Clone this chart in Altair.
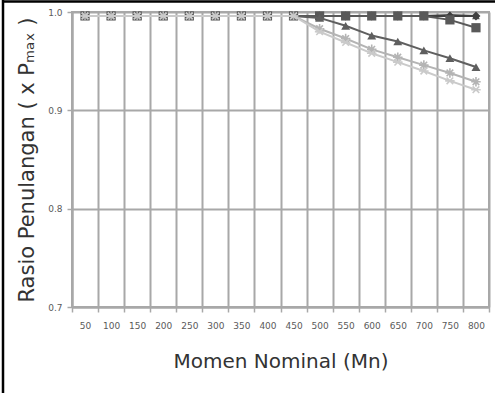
import altair as alt
import pandas as pd

# Nominal moment categories (Mn)
mn = [50, 100, 150, 200, 250, 300, 350, 400, 450, 500, 550, 600, 650, 700, 750, 800]

# Reinforcement ratio (x P_max) for each series
rasio_diamond = [0.996, 0.996, 0.996, 0.996, 0.996, 0.996, 0.996, 0.996,
                 0.996, 0.996, 0.996, 0.996, 0.996, 0.996, 0.996, 0.996]
rasio_tri_top = [0.996, 0.996, 0.996, 0.996, 0.996, 0.996, 0.996, 0.996,
                 0.996, 0.996, 0.996, 0.996, 0.996, 0.996, 0.997, 0.996]
rasio_square = [0.996, 0.996, 0.996, 0.996, 0.996, 0.996, 0.996, 0.996,
                0.996, 0.996, 0.996, 0.996, 0.996, 0.996, 0.992, 0.984]
rasio_triangle = [0.996, 0.996, 0.996, 0.996, 0.996, 0.996, 0.996, 0.996,
                  0.996, 0.994, 0.986, 0.976, 0.970, 0.961, 0.953, 0.944]
rasio_star = [0.996, 0.996, 0.996, 0.996, 0.996, 0.996, 0.996, 0.996,
              0.996, 0.983, 0.973, 0.962, 0.954, 0.946, 0.938, 0.929]
rasio_cross = [0.996, 0.996, 0.996, 0.996, 0.996, 0.996, 0.996, 0.996,
               0.996, 0.980, 0.969, 0.958, 0.949, 0.940, 0.930, 0.921]

STAR = "M-1,0L1,0M0,-1L0,1M-0.7,-0.7L0.7,0.7M-0.7,0.7L0.7,-0.7"
CROSS = "M-1,0L1,0M-0.7,-0.7L0.7,0.7M-0.7,0.7L0.7,-0.7"

# drawing order: later entries sit on top
series = [
    ("B", rasio_tri_top, "#505050", "triangle-up", 60, True),
    ("A", rasio_diamond, "#3f3f3f", "diamond", 80, True),
    ("C", rasio_square, "#595959", "square", 85, True),
    ("D", rasio_triangle, "#5f5f5f", "triangle-up", 80, True),
    ("E", rasio_star, "#b4b4b4", STAR, 90, False),
    ("F", rasio_cross, "#cacaca", CROSS, 90, False),
]

rows = []
for name, vals, *_ in series:
    for m, v in zip(mn, vals):
        rows.append({"Mn": m, "Rasio": v, "Seri": name})
df = pd.DataFrame(rows)

x_enc = alt.X(
    "Mn:O",
    scale=alt.Scale(paddingInner=0, paddingOuter=0),
    axis=alt.Axis(
        title="Momen Nominal (Mn)",
        labelAngle=0,
        tickBand="extent",
        tickSize=5,
        labelPadding=9,
        titlePadding=21,
    ),
)
y_enc = alt.Y(
    "Rasio:Q",
    scale=alt.Scale(domain=[0.7, 1.0], zero=False, nice=False),
    axis=alt.Axis(
        title="Rasio Penulangan ( x Pₘₐₓ )",
        values=[0.7, 0.8, 0.9, 1.0],
        format=".1f",
        tickSize=5,
        labelPadding=5,
        titlePadding=10,
    ),
)

layers = []
for name, vals, color, shape, size, filled in series:
    sub = alt.Chart(df).transform_filter(alt.datum.Seri == name)
    layers.append(
        sub.mark_line(color=color, strokeWidth=2).encode(x=x_enc, y=y_enc)
    )
    layers.append(
        sub.mark_point(
            shape=shape, size=size, color=color, filled=filled,
            strokeWidth=1.6 if not filled else 0.5, opacity=1,
        ).encode(x=x_enc, y=y_enc)
    )

# Outer black frame on the left and top edges of the figure
frame_df = pd.DataFrame({"k": [0]})
frame_left = alt.Chart(frame_df).mark_rule(color="black", strokeWidth=2.5).encode(
    x=alt.value(-69), y=alt.value(-12), y2=alt.value(381)
)
frame_top = alt.Chart(frame_df).mark_rule(color="black", strokeWidth=2.5).encode(
    x=alt.value(-70), x2=alt.value(423), y=alt.value(-10.5)
)

chart = (
    alt.layer(*layers, frame_left, frame_top)
    .properties(
        width=417,
        height=295,
        autosize=alt.AutoSizeParams(type="none"),
        padding={"left": 72, "top": 12, "right": 6, "bottom": 86},
    )
    .configure_view(stroke="#a8a8a8", strokeWidth=2)
    .configure_axis(
        grid=True,
        gridColor="#a8a8a8",
        gridWidth=2,
        gridOpacity=1,
        domainColor="#a8a8a8",
        domainWidth=2,
        tickColor="#a8a8a8",
        tickWidth=1.5,
        labelFont="DejaVu Sans",
        labelFontSize=9,
        labelColor="#5a5a5a",
        titleFont="DejaVu Sans",
        titleFontWeight="normal",
        titleColor="#333333",
    )
    .configure_axisX(titleFontSize=20)
    .configure_axisY(titleFontSize=21)
)

chart.save("out.html", embed_options={"renderer": "svg", "actions": False})
